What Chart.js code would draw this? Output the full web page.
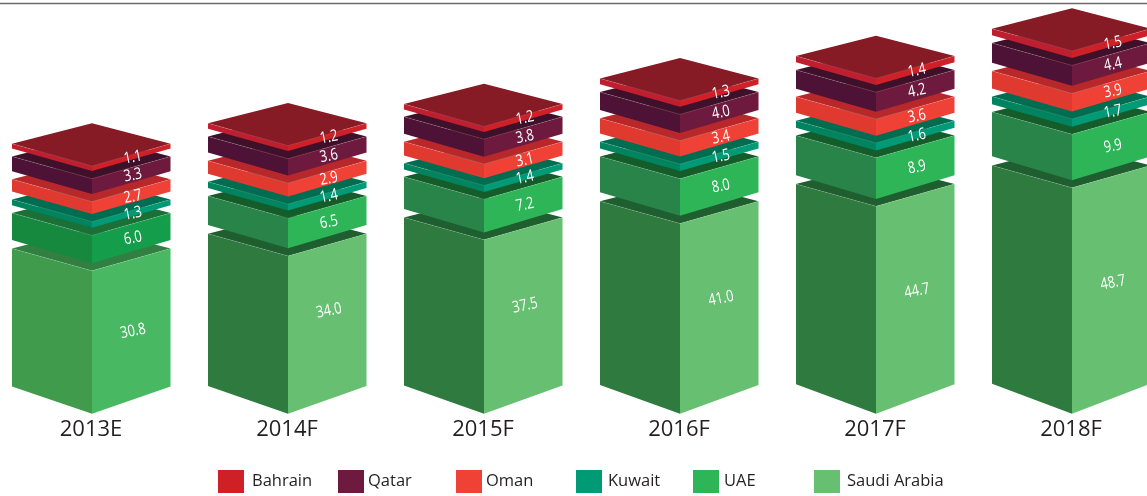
<!DOCTYPE html>
<html>
<head>
<meta charset="utf-8">
<style>
    html, body { margin: 0; padding: 0; background: #fff; overflow: hidden; }
    canvas { display: block; }
</style>
<script src="https://cdn.jsdelivr.net/npm/chart.js"></script>
</head>
<body>
<canvas id="chart" width="1147" height="496"></canvas>
<script>
const categories = ["2013E", "2014F", "2015F", "2016F", "2017F", "2018F"];
const saudiArabia = [30.8, 34.0, 37.5, 41.0, 44.7, 48.7];
const uae = [6.0, 6.5, 7.2, 8.0, 8.9, 9.9];
const kuwait = [1.3, 1.4, 1.4, 1.5, 1.6, 1.7];
const oman = [2.7, 2.9, 3.1, 3.4, 3.6, 3.9];
const qatar = [3.3, 3.6, 3.8, 4.0, 4.2, 4.4];
const bahrain = [1.1, 1.2, 1.2, 1.3, 1.4, 1.5];

// legend order is top of the stack first
const legendNames = ["Bahrain", "Qatar", "Oman", "Kuwait", "UAE", "Saudi Arabia"];
const legendColors = ["#cf2027", "#6d1a3e", "#ef4136", "#009a77", "#2db558", "#67bf71"];
const legendBoxX = [218, 338, 456, 576, 693, 814];
const legendTextX = [252, 368, 486, 608, 724, 847];

const GAPS = [7.6, 7.6, 7.16, 7.66, 7.3, 7.5];  // white space between layers, per year
const SAUDI_LABEL_SHIFT = [0, -13, -10, -9, -8, -7];
const SIDE_L = 80;
const SIDE_R = 78.5;
const TOP_DROP = 22.3;  // corner to front corner of a top face
const TOP_DEPTH = 42.6; // apex to front corner
const SHRINK = 0.966;   // outer edges are a bit shorter than the spine

function faces(top, left, right) {
    return { top: top, left: left, right: right };
}

// the first year of the two big layers is printed lighter
const firstYear = [
    faces("#327f42", "#419b4c", "#49b863"),
    faces("#1b7038", "#16893f", "#149e4b")
];

const layers = [
    { label: "Saudi Arabia", data: saudiArabia, faces: faces("#1f5e2f", "#2e7a3f", "#67bf71") },
    { label: "UAE", data: uae, faces: faces("#155c2b", "#288449", "#2db558") },
    { label: "Kuwait", data: kuwait, faces: faces("#006d51", "#00835f", "#009a77") },
    { label: "Oman", data: oman, faces: faces("#b8272a", "#e03a30", "#ef4136") },
    { label: "Qatar", data: qatar, faces: faces("#3f102a", "#4e1236", "#6d1a3e") },
    { label: "Bahrain", data: bahrain, faces: faces("#861a25", "#be1e2d", "#cf2027") }
];

function poly(ctx, color, pts) {
    ctx.fillStyle = color;
    ctx.beginPath();
    ctx.moveTo(pts[0][0], pts[0][1]);
    for (let i = 1; i < pts.length; i++) ctx.lineTo(pts[i][0], pts[i][1]);
    ctx.closePath();
    ctx.fill();
}

const isoBars = {
    id: "isoBars",
    afterDatasetsDraw(chart) {
        const ctx = chart.ctx;
        ctx.save();

        // rule along the top of the page
        ctx.strokeStyle = "#6b6b6b";
        ctx.lineWidth = 1.5;
        ctx.beginPath();
        ctx.moveTo(0, 3.5);
        ctx.lineTo(chart.width, 3.5);
        ctx.stroke();

        chart.data.datasets.forEach((ds, d) => {
            chart.getDatasetMeta(d).data.forEach((bar, i) => {
                const c = (i === 0 && firstYear[d]) || ds.faces;
                const x = bar.x;
                const yTop = bar.y - GAPS[i] * d;
                const yBot = bar.base - GAPS[i] * d;
                const h = yBot - yTop;
                const xl = x - SIDE_L;
                const xr = x + SIDE_R;
                const edgeTop = yTop - TOP_DROP;
                const edgeBot = edgeTop + h * SHRINK;

                poly(ctx, c.top, [[xl, edgeTop], [x, yTop - TOP_DEPTH], [xr, edgeTop], [x, yTop]]);
                poly(ctx, c.left, [[xl, edgeTop], [x, yTop], [x, yBot], [xl, edgeBot]]);
                poly(ctx, c.right, [[x, yTop], [xr, edgeTop], [xr, edgeBot], [x, yBot]]);

                // faint seam on the front edges
                ctx.strokeStyle = "rgba(255,255,255,0.22)";
                ctx.lineWidth = 0.6;
                ctx.beginPath();
                ctx.moveTo(xl, edgeTop);
                ctx.lineTo(x, yTop);
                ctx.lineTo(xr, edgeTop);
                ctx.stroke();

                // value sits on the right face, tilted with it
                const shift = d === 0 ? SAUDI_LABEL_SHIFT[i] : 0;
                ctx.save();
                ctx.translate(x + 41, (yTop + yBot) / 2 - 11 + shift);
                ctx.rotate(-0.2);
                ctx.scale(0.8, 1);
                ctx.fillStyle = "#ffffff";
                ctx.font = "16px 'Open Sans'";
                ctx.textAlign = "center";
                ctx.textBaseline = "middle";
                ctx.fillText(ds.data[i].toFixed(1), 0, 0);
                ctx.restore();
            });
        });

        legendNames.forEach((name, i) => {
            ctx.fillStyle = legendColors[i];
            ctx.fillRect(legendBoxX[i], 470, 26, 23);
            ctx.fillStyle = "#231f20";
            ctx.font = "16.5px 'Open Sans'";
            ctx.textAlign = "left";
            ctx.textBaseline = "middle";
            ctx.fillText(name, legendTextX[i], 481.5);
        });
        ctx.restore();
    }
};

new Chart(document.getElementById("chart"), {
    type: "bar",
    data: {
        labels: categories,
        datasets: layers.map(l => ({
            label: l.label,
            data: l.data,
            faces: l.faces,
            backgroundColor: "transparent",
            borderWidth: 0
        }))
    },
    options: {
        responsive: false,
        animation: false,
        layout: { padding: { left: 92, right: 75, top: 19.3, bottom: 0 } },
        datasets: { bar: { categoryPercentage: 1, barPercentage: 0.81 } },
        scales: {
            x: {
                stacked: true,
                offset: false,
                grid: { display: false },
                border: { display: false },
                ticks: {
                    color: "#231f20",
                    font: { family: "'Open Sans'", size: 22 },
                    padding: -5,
                    labelOffset: -1,
                    autoSkip: false,
                    maxRotation: 0
                },
                afterFit(axis) { axis.height = 82.3; }
            },
            y: { stacked: true, display: false, min: 0, max: 85 }
        },
        plugins: { legend: { display: false }, tooltip: { enabled: false } }
    },
    plugins: [isoBars]
});
</script>
</body>
</html>
